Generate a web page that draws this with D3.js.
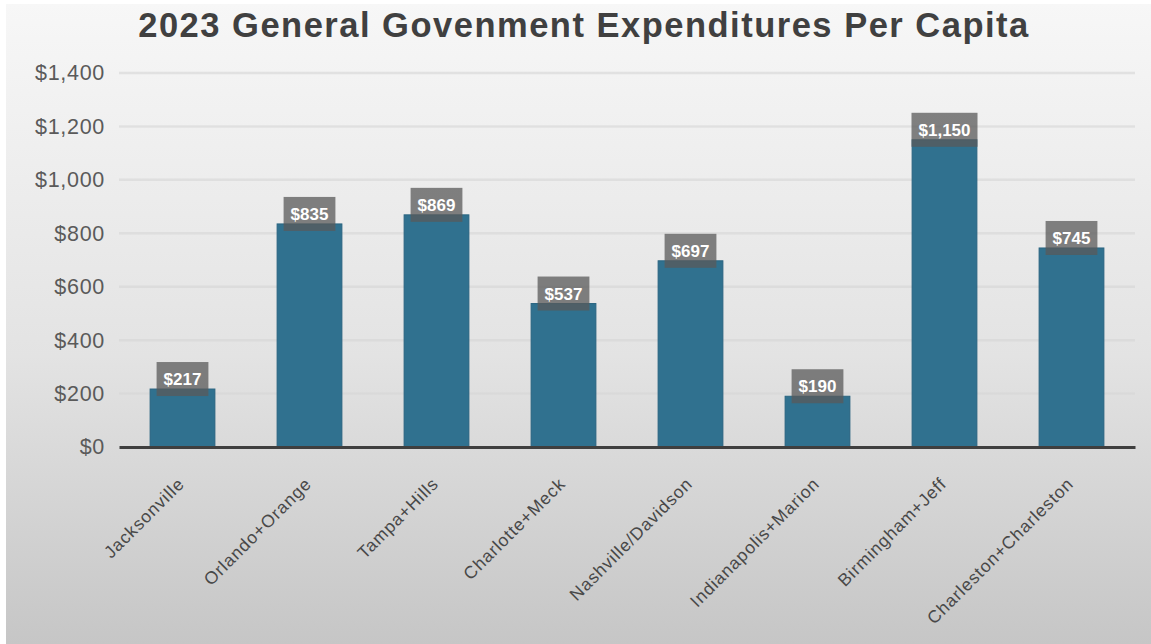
<!DOCTYPE html>
<html>
<head>
<meta charset="utf-8">
<script src="https://cdn.jsdelivr.net/npm/d3@7"></script>
<style>
  html, body { margin: 0; padding: 0; background: #ffffff; }
  svg { display: block; }
</style>
</head>
<body>
<svg id="chart" width="1151" height="644"></svg>
<script>
// Per-capita general government expenditures, 2023
const categories = [
  "Jacksonville", "Orlando+Orange", "Tampa+Hills", "Charlotte+Meck",
  "Nashville/Davidson", "Indianapolis+Marion", "Birmingham+Jeff", "Charleston+Charleston"
];
const values = [217, 835, 869, 537, 697, 190, 1150, 745];
const yTicks = [0, 200, 400, 600, 800, 1000, 1200, 1400];
const title = "2023 General Govenment Expenditures Per Capita";

const W = 1151, H = 644;
const svg = d3.select("#chart");
const font = "'Liberation Sans', Arial, Helvetica, sans-serif";

// background panel with soft vertical gradient
const defs = svg.append("defs");
const grad = defs.append("linearGradient")
  .attr("id", "bg").attr("x1", 0).attr("y1", 0).attr("x2", 0).attr("y2", 1);
grad.append("stop").attr("offset", 0).attr("stop-color", "#f7f7f7");
grad.append("stop").attr("offset", 0.55).attr("stop-color", "#e3e3e3");
grad.append("stop").attr("offset", 1).attr("stop-color", "#c6c6c6");

svg.append("rect")
  .attr("x", 6).attr("y", 4).attr("width", W - 6).attr("height", H - 4)
  .attr("fill", "url(#bg)");

const margin = { left: 119, right: 16, top: 73, bottom: 197 };
const x = d3.scaleBand()
  .domain(categories)
  .range([margin.left, W - margin.right])
  .paddingInner(0.49)
  .paddingOuter(0.245);
const y = d3.scaleLinear()
  .domain([0, 1400])
  .range([H - margin.bottom, margin.top]);

// gridlines
svg.append("g")
  .selectAll("line")
  .data(yTicks.filter(d => d > 0))
  .join("line")
  .attr("x1", margin.left).attr("x2", W - margin.right)
  .attr("y1", d => y(d)).attr("y2", d => y(d))
  .attr("stroke", "#d6d6d6").attr("stroke-opacity", 0.6).attr("stroke-width", 2.5);

// y axis labels
const yAxis = d3.axisLeft(y)
  .tickValues(yTicks)
  .tickFormat(d => "$" + d3.format(",")(d))
  .tickSize(0).tickPadding(0);
const gy = svg.append("g")
  .attr("transform", `translate(${105},0)`)
  .call(yAxis);
gy.select(".domain").remove();
gy.selectAll("text")
  .attr("font-family", font).attr("font-size", 21.5).attr("letter-spacing", 0.7)
  .attr("fill", "#5a5a5a");

// bars
svg.append("g")
  .selectAll("rect")
  .data(values)
  .join("rect")
  .attr("x", (d, i) => x(categories[i]))
  .attr("width", x.bandwidth())
  .attr("y", d => y(d))
  .attr("height", d => y(0) - y(d))
  .attr("fill", "#30718f")
  .attr("stroke", "#2a6480").attr("stroke-width", 1);

// x axis baseline and rotated category labels
const xAxis = d3.axisBottom(x).tickSize(0).tickPadding(0);
const gx = svg.append("g")
  .attr("transform", `translate(0,${y(0)})`)
  .call(xAxis);
gx.select(".domain")
  .attr("stroke", "#3f3f3f").attr("stroke-width", 3);
gx.selectAll("text")
  .attr("font-family", font).attr("font-size", 17.5).attr("letter-spacing", 0.9)
  .attr("fill", "#484848")
  .attr("text-anchor", "end")
  .attr("dy", null)
  .attr("y", null)
  .attr("transform", "translate(3,38) rotate(-45)");

// value labels in grey boxes above each bar
const lbl = svg.append("g")
  .selectAll("g")
  .data(values)
  .join("g")
  .attr("transform", (d, i) => `translate(${x(categories[i]) + x.bandwidth() / 2},${y(d) + 7 - 17})`);
lbl.append("text")
  .attr("text-anchor", "middle")
  .attr("dy", "0.36em")
  .attr("font-family", font).attr("font-size", 17).attr("font-weight", "bold")
  .attr("fill", "#ffffff")
  .text(d => "$" + d3.format(",")(d));
lbl.each(function () {
  const g = d3.select(this);
  const w = g.select("text").node().getComputedTextLength() + 14;
  g.insert("rect", "text")
    .attr("x", -w / 2).attr("y", -17)
    .attr("width", w).attr("height", 34)
    .attr("fill", "#595959").attr("fill-opacity", 0.75);
});

// title
svg.append("text")
  .attr("x", 584).attr("y", 37)
  .attr("text-anchor", "middle")
  .attr("font-family", font).attr("font-size", 34.5).attr("font-weight", "bold")
  .attr("letter-spacing", 1.5)
  .attr("fill", "#404040")
  .text(title);
</script>
</body>
</html>
